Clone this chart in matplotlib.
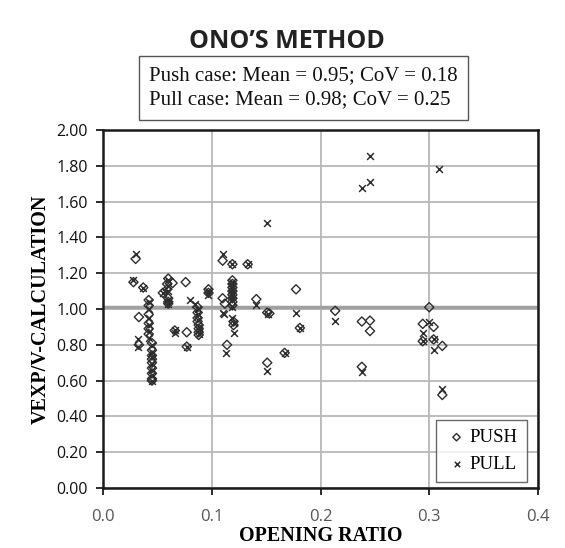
import matplotlib
matplotlib.use("Agg")
import matplotlib.pyplot as plt
from matplotlib.ticker import FixedLocator

push_x = [0.030, 0.028, 0.033, 0.033, 0.037,
          0.042, 0.042, 0.042, 0.042, 0.042, 0.042,
          0.045, 0.045, 0.045, 0.045, 0.045, 0.045, 0.045, 0.045, 0.045,
          0.055, 0.060, 0.059, 0.059, 0.060, 0.060, 0.060,
          0.064, 0.066, 0.076, 0.077, 0.077,
          0.087, 0.087, 0.087, 0.087, 0.088, 0.088, 0.088, 0.088,
          0.097, 0.097,
          0.110, 0.110, 0.112, 0.114,
          0.119, 0.119, 0.119, 0.119, 0.119, 0.119, 0.119, 0.119, 0.119,
          0.120, 0.120,
          0.133, 0.141, 0.151, 0.153, 0.151,
          0.167, 0.1775, 0.181,
          0.2135, 0.238, 0.2455, 0.2455, 0.238,
          0.300, 0.294, 0.304, 0.294, 0.304, 0.312, 0.312]
push_y = [1.28, 1.15, 0.955, 0.80, 1.12,
          1.05, 1.02, 0.97, 0.92, 0.89, 0.86,
          0.81, 0.77, 0.74, 0.72, 0.70, 0.67, 0.64, 0.61, 0.60,
          1.09, 1.17, 1.14, 1.11, 1.06, 1.04, 1.03,
          1.145, 0.88, 1.15, 0.87, 0.79,
          1.01, 0.98, 0.95, 0.93, 0.91, 0.89, 0.87, 0.855,
          1.11, 1.09,
          1.27, 1.06, 1.03, 0.80,
          1.25, 1.16, 1.14, 1.12, 1.10, 1.08, 1.06, 1.04, 1.02,
          0.93, 0.91,
          1.25, 1.055, 0.98, 0.975, 0.70,
          0.755, 1.11, 0.894,
          0.99, 0.93, 0.935, 0.877, 0.677,
          1.01, 0.917, 0.90, 0.82, 0.83, 0.794, 0.52]

pull_x = [0.030, 0.028, 0.037, 0.032, 0.032,
          0.042, 0.042, 0.042, 0.042, 0.042, 0.042,
          0.045, 0.045, 0.045, 0.045, 0.045, 0.045, 0.045,
          0.055, 0.060, 0.060, 0.060, 0.060, 0.060,
          0.066, 0.066, 0.077, 0.080, 0.085,
          0.087, 0.087, 0.087, 0.088, 0.088, 0.088,
          0.097, 0.097,
          0.110, 0.110, 0.111, 0.113,
          0.119, 0.119, 0.119, 0.119, 0.119, 0.119, 0.119, 0.119, 0.119, 0.120, 0.120,
          0.133, 0.141, 0.151, 0.152, 0.151,
          0.167, 0.1775, 0.181,
          0.2135, 0.238, 0.2455, 0.2455, 0.238,
          0.300, 0.294, 0.294, 0.304, 0.304, 0.309, 0.312]
pull_y = [1.31, 1.16, 1.12, 0.83, 0.79,
          1.04, 1.00, 0.95, 0.91, 0.87, 0.84,
          0.80, 0.76, 0.73, 0.69, 0.66, 0.63, 0.60,
          1.09, 1.16, 1.13, 1.10, 1.05, 1.03,
          0.88, 0.865, 0.79, 1.05, 1.03,
          1.00, 0.97, 0.94, 0.90, 0.88, 0.86,
          1.10, 1.08,
          1.31, 0.98, 0.97, 0.755,
          1.25, 1.15, 1.13, 1.11, 1.09, 1.07, 1.05, 1.01, 0.95, 0.92, 0.865,
          1.25, 1.02, 1.48, 0.97, 0.655,
          0.755, 0.98, 0.894,
          0.935, 1.675, 1.71, 1.855, 0.648,
          0.93, 0.866, 0.82, 0.83, 0.77, 1.78, 0.553]

ref_line = 1.01
x_ticks = [0.0, 0.1, 0.2, 0.3, 0.4]
y_ticks = [0.0, 0.2, 0.4, 0.6, 0.8, 1.0, 1.2, 1.4, 1.6, 1.8, 2.0]

title = "ONO\u2019S METHOD"
stats_text = "Push case: Mean = 0.95; CoV = 0.18\nPull case: Mean = 0.98; CoV = 0.25"

fig = plt.figure(figsize=(5.65, 5.48), dpi=100)
ax = fig.add_axes([103/565, 60/548, 435/565, 358/548])

ax.set_xlim(0, 0.4)
ax.set_ylim(0, 2.0)
ax.xaxis.set_major_locator(FixedLocator(x_ticks))
ax.yaxis.set_major_locator(FixedLocator(y_ticks))
ax.set_xticklabels([f"{v:.1f}" for v in x_ticks])
ax.set_yticklabels([f"{v:.2f}" for v in y_ticks])

ax.grid(True, color="#b8b8b8", linewidth=1.3, zorder=0)
ax.set_axisbelow(True)
ax.axhline(ref_line, color="#a0a0a0", linewidth=2.5, zorder=1)

mc = "#2e2e2e"
ax.scatter(push_x, push_y, marker="D", s=22, facecolors="none", edgecolors=mc,
           linewidths=1.0, zorder=3, label="PUSH")
ax.scatter(pull_x, pull_y, marker="x", s=24, color=mc, linewidths=1.1,
           zorder=3, label="PULL")

for s in ax.spines.values():
    s.set_color("#1a1a1a")
    s.set_linewidth(1.8)

ax.tick_params(axis="y", direction="out", length=5, width=1.3, color="#1a1a1a",
               labelsize=11.5, labelcolor="#111111", pad=6)
ax.tick_params(axis="x", direction="out", length=5, width=1.3, color="#1a1a1a",
               labelsize=12, labelcolor="#555555", pad=10)
for lab in ax.get_yticklabels() + ax.get_xticklabels():
    lab.set_family("Open Sans")

ax.set_xlabel("OPENING RATIO", family="Liberation Serif", fontweight="bold",
              fontsize=14.5, labelpad=1)
ax.set_ylabel("VEXP/V-CALCULATION", family="Liberation Serif", fontweight="bold",
              fontsize=14.5, labelpad=4)

leg = ax.legend(loc="lower right", bbox_to_anchor=(527/565, 66/548),
                bbox_transform=fig.transFigure, borderaxespad=0,
                prop={"family": "Liberation Serif", "size": 13.5},
                frameon=True, fancybox=False, edgecolor="#444444",
                handletextpad=0.1, handlelength=1.2, borderpad=0.5,
                labelspacing=0.5, markerscale=0.8)
leg.get_frame().set_linewidth(1.0)

fig.text(287/565, 1 - 42/548, title, ha="center", va="center",
         family="Open Sans", fontweight="bold", fontsize=18, color="#222222")
fig.text(149/565, 1 - 88/548, stats_text, ha="left", va="center",
         family="Liberation Serif", fontsize=15, color="#111111",
         linespacing=1.38, multialignment="left",
         bbox=dict(boxstyle="square,pad=0.5", facecolor="white",
                   edgecolor="#555555", linewidth=1.0))

fig.savefig("out.png", dpi=100, facecolor="white")
